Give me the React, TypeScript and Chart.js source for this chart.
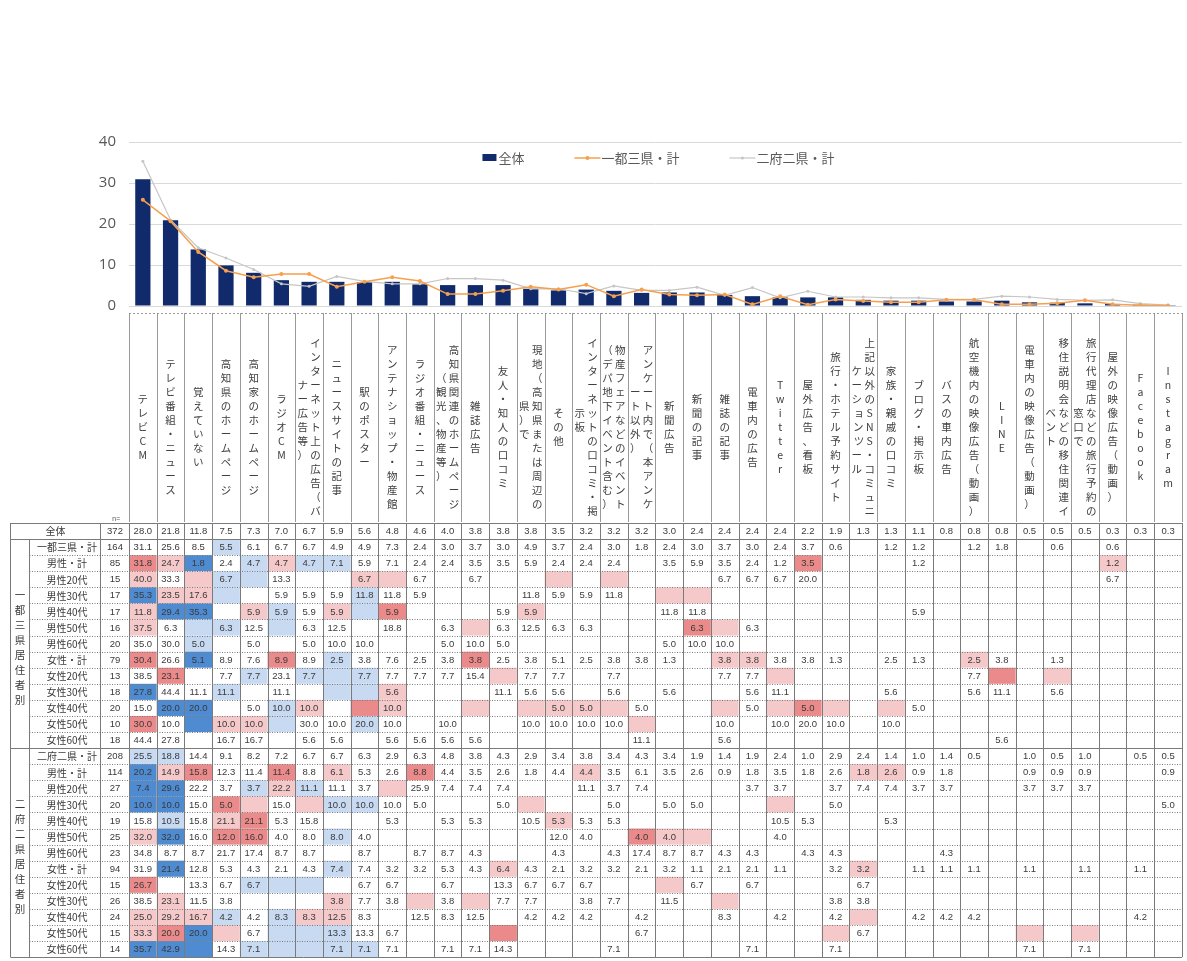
import React, { useEffect, useRef } from 'react';
import { Chart, registerables } from 'chart.js';

Chart.register(...registerables);

const _ = null;

// ---------- chart data ----------
const categories: string[] = [
  'テレビCM',
  'テレビ番組・ニュース',
  '覚えていない',
  '高知県のホームページ',
  '高知家のホームページ',
  'ラジオCM',
  'インターネット上の広告（バ\nナー広告等）',
  'ニュースサイトの記事',
  '駅のポスター',
  'アンテナショップ・物産館',
  'ラジオ番組・ニュース',
  '高知県関連のホームページ\n（観光、物産等）',
  '雑誌広告',
  '友人・知人の口コミ',
  '現地（高知県または周辺の\n県）で',
  'その他',
  'インターネットの口コミ・掲\n示板',
  '物産フェアなどのイベント\n（デパ地下イベント含む）',
  'アンケート内で（本アンケ\nート以外）',
  '新聞広告',
  '新聞の記事',
  '雑誌の記事',
  '電車内の広告',
  'Twitter',
  '屋外広告、看板',
  '旅行・ホテル予約サイト',
  '上記以外のSNS・コミュニ\nケーションツール',
  '家族・親戚の口コミ',
  'ブログ・掲示板',
  'バスの車内広告',
  '航空機内の映像広告（動画）',
  'LINE',
  '電車内の映像広告（動画）',
  '移住説明会などの移住関連イ\nベント',
  '旅行代理店などの旅行予約の\n窓口で',
  '屋外の映像広告（動画）',
  'Facebook',
  'Instagram',
];

const barTotal = [30.9, 20.9, 13.8, 9.9, 8.1, 6.3, 5.9, 5.9, 5.8, 5.9, 5.3, 5.1, 5.1, 5.1, 4.2, 3.8, 4.0, 3.7, 3.2, 3.3, 3.3, 2.7, 2.4, 2.1, 2.1, 2.1, 1.5, 1.3, 1.3, 1.1, 1.1, 1.3, 0.9, 0.8, 0.65, 0.5, 0.3, 0.2];
const lineEast = [25.9, 20.7, 13.2, 8.6, 7.0, 7.8, 7.8, 4.7, 5.9, 7.0, 6.1, 2.9, 2.9, 3.7, 4.7, 4.0, 5.2, 2.4, 4.0, 2.8, 2.6, 2.8, 0.4, 2.4, 0.3, 1.6, 1.2, 0.9, 0.9, 1.5, 1.5, 0.4, 0.4, 0.7, 1.4, 0.4, 0.2, 0.1];
const lineWest = [35.3, 21.0, 14.2, 11.7, 8.9, 5.4, 4.8, 7.2, 6.0, 5.4, 5.4, 6.7, 6.7, 6.3, 4.2, 4.2, 3.0, 4.9, 3.8, 3.8, 4.6, 2.6, 4.5, 2.0, 3.6, 2.2, 2.2, 2.0, 2.0, 1.6, 1.6, 2.4, 2.2, 1.6, 1.4, 1.5, 0.6, 0.2];
const seriesNames = ['全体', '一都三県・計', '二府二県・計'];
const yMax = 40;
const yStep = 10;

// ---------- cross table data ----------
const rowLabels = [
  '全体',
  '一都三県・計', '男性・計', '男性20代', '男性30代', '男性40代', '男性50代', '男性60代',
  '女性・計', '女性20代', '女性30代', '女性40代', '女性50代', '女性60代',
  '二府二県・計', '男性・計', '男性20代', '男性30代', '男性40代', '男性50代', '男性60代',
  '女性・計', '女性20代', '女性30代', '女性40代', '女性50代', '女性60代',
];
const rowN = [372, 164, 85, 15, 17, 17, 16, 20, 79, 13, 18, 20, 10, 18, 208, 114, 27, 20, 19, 25, 23, 94, 15, 26, 24, 15, 14];
const groupLabels = ['一都三県居住者別', '二府二県居住者別'];

const tAll = [28.0, 21.8, 11.8, 7.5, 7.3, 7.0, 6.7, 5.9, 5.6, 4.8, 4.6, 4.0, 3.8, 3.8, 3.8, 3.5, 3.2, 3.2, 3.2, 3.0, 2.4, 2.4, 2.4, 2.4, 2.2, 1.9, 1.3, 1.3, 1.1, 0.8, 0.8, 0.8, 0.5, 0.5, 0.5, 0.3, 0.3, 0.3];
const tE = [31.1, 25.6, 8.5, 5.5, 6.1, 6.7, 6.7, 4.9, 4.9, 7.3, 2.4, 3.0, 3.7, 3.0, 4.9, 3.7, 2.4, 3.0, 1.8, 2.4, 3.0, 3.7, 3.0, 2.4, 3.7, 0.6, _, 1.2, 1.2, _, 1.2, 1.8, _, 0.6, _, 0.6];
const tEM = [31.8, 24.7, 1.8, 2.4, 4.7, 4.7, 4.7, 7.1, 5.9, 7.1, 2.4, 2.4, 3.5, 3.5, 5.9, 2.4, 2.4, 2.4, _, 3.5, 5.9, 3.5, 2.4, 1.2, 3.5, _, _, _, 1.2, _, _, _, _, _, _, 1.2];
const tEM20 = [40.0, 33.3, _, 6.7, _, 13.3, _, _, 6.7, _, 6.7, _, 6.7, _, _, _, _, _, _, _, _, 6.7, 6.7, 6.7, 20.0, _, _, _, _, _, _, _, _, _, _, 6.7];
const tEM30 = [35.3, 23.5, 17.6, _, _, 5.9, 5.9, 5.9, 11.8, 11.8, 5.9, _, _, _, 11.8, 5.9, 5.9, 11.8];
const tEM40 = [11.8, 29.4, 35.3, _, 5.9, 5.9, 5.9, 5.9, _, 5.9, _, _, _, 5.9, 5.9, _, _, _, _, 11.8, 11.8, _, _, _, _, _, _, _, 5.9];
const tEM50 = [37.5, 6.3, _, 6.3, 12.5, _, 6.3, 12.5, _, 18.8, _, 6.3, _, 6.3, 12.5, 6.3, 6.3, _, _, _, 6.3, _, 6.3];
const tEM60 = [35.0, 30.0, 5.0, _, 5.0, _, 5.0, 10.0, 10.0, _, _, 5.0, 10.0, 5.0, _, _, _, _, _, 5.0, 10.0, 10.0];
const tEF = [30.4, 26.6, 5.1, 8.9, 7.6, 8.9, 8.9, 2.5, 3.8, 7.6, 2.5, 3.8, 3.8, 2.5, 3.8, 5.1, 2.5, 3.8, 3.8, 1.3, _, 3.8, 3.8, 3.8, 3.8, 1.3, _, 2.5, 1.3, _, 2.5, 3.8, _, 1.3];
const tEF20 = [38.5, 23.1, _, 7.7, 7.7, 23.1, 7.7, _, 7.7, 7.7, 7.7, 7.7, 15.4, _, 7.7, 7.7, _, 7.7, _, _, _, 7.7, 7.7, _, _, _, _, _, _, _, 7.7];
const tEF30 = [27.8, 44.4, 11.1, 11.1, _, 11.1, _, _, _, 5.6, _, _, _, 11.1, 5.6, 5.6, _, 5.6, _, 5.6, _, _, 5.6, 11.1, _, _, _, 5.6, _, _, 5.6, 11.1, _, 5.6];
const tEF40 = [15.0, 20.0, 20.0, _, 5.0, 10.0, 10.0, _, _, 10.0, _, _, _, _, _, 5.0, 5.0, _, 5.0, _, _, _, 5.0, _, 5.0, _, _, _, 5.0];
const tEF50 = [30.0, 10.0, _, 10.0, 10.0, _, 30.0, 10.0, 20.0, 10.0, _, 10.0, _, _, 10.0, 10.0, 10.0, 10.0, _, _, _, 10.0, _, 10.0, 20.0, 10.0, _, 10.0];
const tEF60 = [44.4, 27.8, _, 16.7, 16.7, _, 5.6, 5.6, _, 5.6, 5.6, 5.6, 5.6, _, _, _, _, _, 11.1, _, _, 5.6, _, _, _, _, _, _, _, _, _, 5.6];
const tW = [25.5, 18.8, 14.4, 9.1, 8.2, 7.2, 6.7, 6.7, 6.3, 2.9, 6.3, 4.8, 3.8, 4.3, 2.9, 3.4, 3.8, 3.4, 4.3, 3.4, 1.9, 1.4, 1.9, 2.4, 1.0, 2.9, 2.4, 1.4, 1.0, 1.4, 0.5, _, 1.0, 0.5, 1.0, _, 0.5, 0.5];
const tWM = [20.2, 14.9, 15.8, 12.3, 11.4, 11.4, 8.8, 6.1, 5.3, 2.6, 8.8, 4.4, 3.5, 2.6, 1.8, 4.4, 4.4, 3.5, 6.1, 3.5, 2.6, 0.9, 1.8, 3.5, 1.8, 2.6, 1.8, 2.6, 0.9, 1.8, _, _, 0.9, 0.9, 0.9, _, _, 0.9];
const tWM20 = [7.4, 29.6, 22.2, 3.7, 3.7, 22.2, 11.1, 11.1, 3.7, _, 25.9, 7.4, 7.4, 7.4, _, _, 11.1, 3.7, 7.4, _, _, _, 3.7, 3.7, _, 3.7, 7.4, 7.4, 3.7, 3.7, _, _, 3.7, 3.7, 3.7];
const tWM30 = [10.0, 10.0, 15.0, 5.0, _, 15.0, _, 10.0, 10.0, 10.0, 5.0, _, _, 5.0, _, _, _, 5.0, _, 5.0, 5.0, _, _, _, _, 5.0, _, _, _, _, _, _, _, _, _, _, _, 5.0];
const tWM40 = [15.8, 10.5, 15.8, 21.1, 21.1, 5.3, 15.8, _, _, 5.3, _, 5.3, 5.3, _, 10.5, 5.3, 5.3, 5.3, _, _, _, _, _, 10.5, 5.3, _, _, 5.3];
const tWM50 = [32.0, 32.0, 16.0, 12.0, 16.0, 4.0, 8.0, 8.0, 4.0, _, _, _, _, _, _, 12.0, 4.0, _, 4.0, 4.0, _, _, _, 4.0];
const tWM60 = [34.8, 8.7, 8.7, 21.7, 17.4, 8.7, 8.7, _, 8.7, _, 8.7, 8.7, 4.3, _, _, 4.3, _, 4.3, 17.4, 8.7, 8.7, 4.3, 4.3, _, 4.3, 4.3, _, _, _, 4.3];
const tWF = [31.9, 21.4, 12.8, 5.3, 4.3, 2.1, 4.3, 7.4, 7.4, 3.2, 3.2, 5.3, 4.3, 6.4, 4.3, 2.1, 3.2, 3.2, 2.1, 3.2, 1.1, 2.1, 2.1, 1.1, _, 3.2, 3.2, _, 1.1, 1.1, 1.1, _, 1.1, _, 1.1, _, 1.1];
const tWF20 = [26.7, _, 13.3, 6.7, 6.7, _, _, _, 6.7, 6.7, _, 6.7, _, 13.3, 6.7, 6.7, 6.7, _, _, _, 6.7, _, 6.7, _, _, _, 6.7];
const tWF30 = [38.5, 23.1, 11.5, 3.8, _, _, _, 3.8, 7.7, 3.8, _, 3.8, _, 7.7, 7.7, _, 3.8, 7.7, _, 11.5, _, _, _, _, _, 3.8, 3.8];
const tWF40 = [25.0, 29.2, 16.7, 4.2, 4.2, 8.3, 8.3, 12.5, 8.3, _, 12.5, 8.3, 12.5, _, 4.2, 4.2, 4.2, _, 4.2, _, _, 8.3, _, 4.2, _, 4.2, _, _, 4.2, 4.2, 4.2, _, _, _, _, _, 4.2];
const tWF50 = [33.3, 20.0, 20.0, _, 6.7, _, _, 13.3, 13.3, 6.7, _, _, _, _, _, _, _, _, 6.7, _, _, _, _, _, _, _, 6.7];
const tWF60 = [35.7, 42.9, _, 14.3, 7.1, _, _, 7.1, 7.1, 7.1, _, 7.1, 7.1, 14.3, _, _, _, 7.1, _, _, _, _, 7.1, _, _, 7.1, _, _, _, _, _, _, 7.1, _, 7.1];

// highlight flags per cell: p = slightly high, r = high, b = slightly low, B = low
const sAll = '';
const sE = '...b';
const sEM = 'rpB.bpbb................r..........p';
const sEM20 = 'p.pbb...pp.....p.p';
const sEM30 = 'Bppb....b..........pp';
const sEM40 = 'pBB.pb.pbr....p';
const sEM50 = 'p.bb.b......p.......rp';
const sEM60 = '..b';
const sEF = 'r.B..r.b....r........pp.......p';
const sEF20 = '.r..b.bbb....p.........p.......r.p';
const sEF30 = 'B..b...bbp';
const sEF40 = '.BB..bp.rp..p.pppp...p.prp.p';
const sEF50 = 'r.Bppb..b.........p';
const sEF60 = '';
const sW = 'bb';
const sWM = 'Bpr..r.p..r.....p.........pp';
const sWM20 = 'BB..bpb..p';
const sWM30 = 'BB.rp.pbb.....p........p';
const sWM40 = '.b.pr..........p';
const sWM50 = 'pB.rr..b..........rpp';
const sWM60 = '';
const sWF = '.B.....b.....p............p';
const sWF20 = 'r...bbb............p';
const sWF30 = '.p.....p..p.p........p';
const sWF40 = 'pppb.bpp..................p';
const sWF50 = 'prBp.bbb.....r...........p......p.p';
const sWF60 = 'BBB.bbbbb';

const tableValues = [tAll, tE, tEM, tEM20, tEM30, tEM40, tEM50, tEM60, tEF, tEF20, tEF30, tEF40, tEF50, tEF60,
  tW, tWM, tWM20, tWM30, tWM40, tWM50, tWM60, tWF, tWF20, tWF30, tWF40, tWF50, tWF60];
const tableFlags = [sAll, sE, sEM, sEM20, sEM30, sEM40, sEM50, sEM60, sEF, sEF20, sEF30, sEF40, sEF50, sEF60,
  sW, sWM, sWM20, sWM30, sWM40, sWM50, sWM60, sWF, sWF20, sWF30, sWF40, sWF50, sWF60];

// ---------- styling ----------
const CJK = '"Noto Sans CJK JP", "Noto Sans", sans-serif';
const NUM = '"Liberation Sans", "DejaVu Sans", sans-serif';
const FLAG_COLORS: Record<string, string> = { p: '#f5c9c9', r: '#ea8a8a', b: '#c7daf1', B: '#4f8bd0' };

function labelLines(name: string): string[] {
  const parts = name.split('\n');
  if (parts.length === 1) return Array.from(parts[0]);
  const right = Array.from(parts[0]);
  const left = Array.from(parts[1]);
  const off = Math.floor((right.length - left.length) / 2);
  return right.map((ch, i) => {
    const l = left[i - off];
    return (l === undefined ? '\u3000' : l) + ' ' + ch;
  });
}

const legendPlugin = {
  id: 'topLegend',
  afterDatasetsDraw(chart: any) {
    const { ctx, chartArea } = chart;
    const ds = chart.data.datasets;
    ctx.save();
    ctx.font = `13px ${CJK}`;
    const sampleW = [14, 26, 26];
    const gap = [2, 1, 1];
    const spacing = 50;
    const widths = ds.map((d: any, i: number) => sampleW[i] + gap[i] + ctx.measureText(d.label).width);
    const total = widths.reduce((a: number, b: number) => a + b, 0) + spacing * (ds.length - 1);
    let x = (chartArea.left + chartArea.right) / 2 + 3 - total / 2;
    const y = chartArea.top + 16;
    ds.forEach((d: any, i: number) => {
      if (i === 0) {
        ctx.fillStyle = d.backgroundColor;
        ctx.fillRect(x, y - 4, sampleW[i], 7);
      } else {
        ctx.strokeStyle = d.borderColor;
        ctx.lineWidth = d.borderWidth;
        ctx.beginPath();
        ctx.moveTo(x, y);
        ctx.lineTo(x + sampleW[i], y);
        ctx.stroke();
        if (d.pointRadius > 0) {
          ctx.fillStyle = d.pointBackgroundColor;
          ctx.beginPath();
          ctx.arc(x + sampleW[i] / 2, y, d.pointRadius, 0, Math.PI * 2);
          ctx.fill();
        }
      }
      ctx.fillStyle = '#595959';
      ctx.textAlign = 'left';
      ctx.textBaseline = 'middle';
      ctx.fillText(d.label, x + sampleW[i] + gap[i], y);
      x += widths[i] + spacing;
    });
    ctx.restore();
  },
};

const tablePlugin = {
  id: 'crossTable',
  afterDraw(chart: any) {
    const { ctx } = chart;
    const xs = chart.scales.x;
    const n = categories.length;
    const colW = (xs.right - xs.left) / n;
    const cx = (i: number) => xs.getPixelForValue(i);
    const seg = (x1: number, y1: number, x2: number, y2: number) => {
      ctx.beginPath();
      ctx.moveTo(x1, y1);
      ctx.lineTo(x2, y2);
      ctx.stroke();
    };
    ctx.save();

    // category label cells
    const labTop = xs.top + 7;
    const labBot = xs.bottom;
    ctx.strokeStyle = '#9a9a9a';
    ctx.lineWidth = 1;
    for (let i = 0; i <= n; i++) {
      const px = Math.round(xs.left + i * colW) + 0.5;
      seg(px, labTop, px, labBot);
    }
    ctx.setLineDash([2, 2]);
    seg(xs.left, labTop + 0.5, xs.right, labTop + 0.5);
    ctx.setLineDash([]);
    ctx.fillStyle = '#595959';
    ctx.font = `7px ${CJK}`;
    ctx.textAlign = 'center';
    ctx.textBaseline = 'middle';
    ctx.fillText('n=', 116, labBot - 4);

    // table geometry
    const rowH = 16.08;
    const top = labBot + 1;
    const nRows = tableValues.length;
    const bottom = top + nRows * rowH;
    const L0 = 10.5, L1 = 29.5, L2 = 100.5, L3 = Math.round(xs.left) + 0.5;
    const right = xs.right;
    const rowY = (r: number) => top + r * rowH;

    // fills
    for (let r = 0; r < nRows; r++) {
      const flags = tableFlags[r];
      for (let c = 0; c < n; c++) {
        const f = flags[c];
        if (f && FLAG_COLORS[f]) {
          ctx.fillStyle = FLAG_COLORS[f];
          ctx.fillRect(cx(c) - colW / 2, rowY(r), colW, rowH);
        }
      }
    }

    // values
    ctx.fillStyle = '#3a3a3a';
    ctx.textAlign = 'center';
    ctx.textBaseline = 'middle';
    ctx.font = `9.5px ${NUM}`;
    for (let r = 0; r < nRows; r++) {
      const vals = tableValues[r];
      const yMid = rowY(r) + rowH / 2 + 0.5;
      ctx.fillText(String(rowN[r]), (L2 + L3) / 2, yMid);
      for (let c = 0; c < n; c++) {
        const v = vals[c];
        if (v !== null && v !== undefined) ctx.fillText(v.toFixed(1), cx(c), yMid);
      }
    }

    // row labels
    ctx.font = `10px ${CJK}`;
    ctx.fillText(rowLabels[0], (L0 + L2) / 2, rowY(0) + rowH / 2 + 0.5);
    for (let r = 1; r < nRows; r++) {
      ctx.fillText(rowLabels[r], (L1 + L2) / 2 + 2, rowY(r) + rowH / 2 + 0.5);
    }
    // group labels (vertical)
    ctx.font = `10.5px ${CJK}`;
    groupLabels.forEach((g, gi) => {
      const r0 = 1 + gi * 13;
      const mid = (rowY(r0) + rowY(r0 + 13)) / 2 + 4;
      const chars = Array.from(g);
      const step = 15;
      chars.forEach((ch, k) => {
        ctx.fillText(ch, (L0 + L1) / 2, mid + (k - (chars.length - 1) / 2) * step);
      });
    });

    // grid lines
    ctx.strokeStyle = '#7a7a7a';
    ctx.lineWidth = 1;
    seg(L0, rowY(0), L0, bottom);
    seg(L1, rowY(1), L1, bottom);
    seg(L2, rowY(0), L2, bottom);
    seg(L3, rowY(0), L3, bottom);
    for (let i = 1; i <= n; i++) {
      const px = Math.round(xs.left + i * colW) + 0.5;
      seg(px, rowY(0), px, bottom);
    }
    for (let r = 0; r <= nRows; r++) {
      const py = Math.round(rowY(r)) + 0.5;
      if (r === 0 || r === 1 || r === 14 || r === nRows) {
        ctx.setLineDash([]);
        seg(L0, py, right, py);
      } else {
        ctx.setLineDash([1, 1.5]);
        seg(L1, py, right, py);
      }
    }
    ctx.setLineDash([]);
    ctx.restore();
  },
};

export default function App() {
  const ref = useRef<HTMLCanvasElement>(null);
  useEffect(() => {
    const canvas = ref.current;
    if (!canvas) return;
    const chart = new Chart(canvas, {
      type: 'bar',
      data: {
        labels: categories,
        datasets: [
          {
            type: 'bar',
            label: seriesNames[0],
            data: barTotal,
            backgroundColor: '#102a6b',
            borderWidth: 0,
            barPercentage: 0.55,
            categoryPercentage: 1,
            order: 3,
          },
          {
            type: 'line',
            label: seriesNames[1],
            data: lineEast,
            borderColor: '#f6a04d',
            backgroundColor: '#f6a04d',
            pointBackgroundColor: '#f6a04d',
            pointBorderWidth: 0,
            borderWidth: 1.5,
            pointRadius: 2,
            tension: 0,
            order: 1,
          },
          {
            type: 'line',
            label: seriesNames[2],
            data: lineWest,
            borderColor: '#c6c6c6',
            backgroundColor: '#c6c6c6',
            pointBackgroundColor: '#c6c6c6',
            pointBorderWidth: 0,
            borderWidth: 1.2,
            pointRadius: 1.5,
            tension: 0,
            order: 2,
          },
        ] as any,
      },
      options: {
        animation: false,
        responsive: false,
        devicePixelRatio: 1,
        layout: { padding: { top: 142, left: 0, right: 6, bottom: 439 } },
        plugins: {
          legend: { display: false },
          tooltip: { enabled: false },
        },
        scales: {
          x: {
            offset: true,
            grid: { display: false, drawTicks: false },
            border: { display: false },
            ticks: {
              autoSkip: false,
              maxRotation: 0,
              minRotation: 0,
              padding: 37,
              crossAlign: 'center',
              color: '#404040',
              font: { family: CJK, size: 10.5, lineHeight: 1.333 },
              callback: (_v: any, i: number) => labelLines(categories[i]),
            },
            afterFit: (scale: any) => {
              scale.height = 216;
            },
          },
          y: {
            min: 0,
            max: yMax,
            ticks: {
              stepSize: yStep,
              padding: 13,
              color: '#595959',
              font: { family: '"Open Sans", "Liberation Sans", sans-serif', size: 15 },
            },
            grid: { color: '#d9d9d9', drawTicks: false },
            border: { display: false },
            afterFit: (scale: any) => {
              scale.width = 129;
            },
          },
        },
      } as any,
      plugins: [legendPlugin, tablePlugin],
    });
    return () => chart.destroy();
  }, []);

  return (
    <div style={{ position: 'absolute', left: 0, top: 0, width: 1187, height: 961, overflow: 'hidden', background: '#ffffff' }}>
      <canvas ref={ref} width={1210} height={961} style={{ display: 'block', width: 1210, height: 961 }} />
    </div>
  );
}
